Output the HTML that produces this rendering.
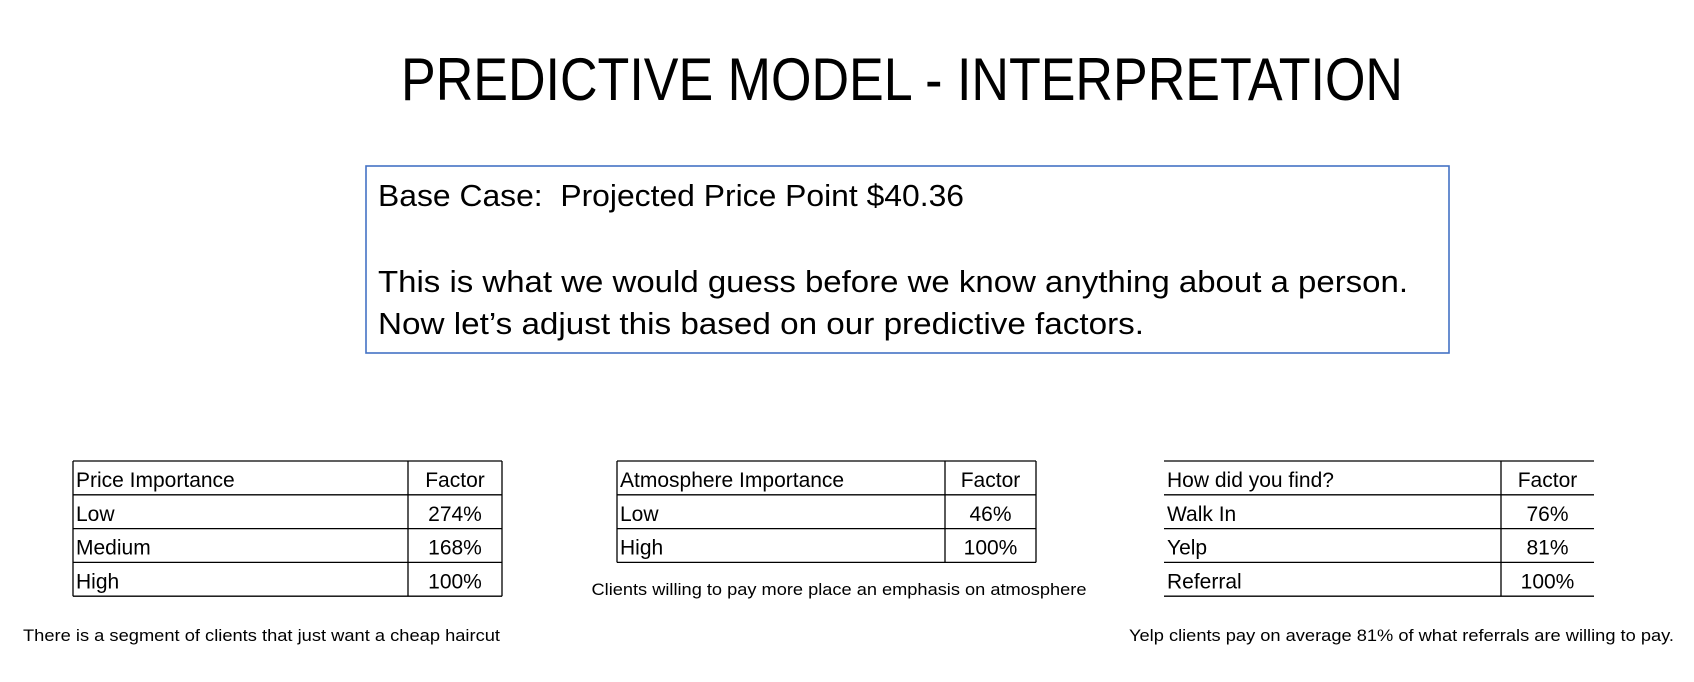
<!DOCTYPE html>
<html><head><meta charset="utf-8"><style>
html,body{margin:0;padding:0;background:#fff;}
svg{display:block;font-family:"Liberation Sans",sans-serif;}
</style></head><body>
<svg id="s" width="1694" height="682" viewBox="0 0 1694 682">
<text x="401" y="100" font-size="60" textLength="1002" lengthAdjust="spacingAndGlyphs">PREDICTIVE MODEL - INTERPRETATION</text>
<rect x="366" y="166" width="1083" height="187" fill="none" stroke="#4472C4" stroke-width="1.6"/>
<text x="378" y="206" font-size="31" textLength="586" lengthAdjust="spacingAndGlyphs">Base Case:&#160; Projected Price Point $40.36</text>
<text x="378" y="292" font-size="31" textLength="1030" lengthAdjust="spacingAndGlyphs">This is what we would guess before we know anything about a person.</text>
<text x="378" y="334" font-size="31" textLength="766" lengthAdjust="spacingAndGlyphs">Now let’s adjust this based on our predictive factors.</text>
<text x="839" y="595" font-size="17" text-anchor="middle" textLength="495" lengthAdjust="spacingAndGlyphs">Clients willing to pay more place an emphasis on atmosphere</text>
<text x="23" y="641" font-size="17" textLength="477" lengthAdjust="spacingAndGlyphs">There is a segment of clients that just want a cheap haircut</text>
<text x="1129" y="641" font-size="17" textLength="545" lengthAdjust="spacingAndGlyphs">Yelp clients pay on average 81% of what referrals are willing to pay.</text>
</svg>
<script>
const priceLabels=["Low","Medium","High"];
const priceValues=["274%","168%","100%"];
const atmoLabels=["Low","High"];
const atmoValues=["46%","100%"];
const findLabels=["Walk In","Yelp","Referral"];
const findValues=["76%","81%","100%"];
const NS="http://www.w3.org/2000/svg";
const svg=document.getElementById('s');
function mk(tag,attrs){const e=document.createElementNS(NS,tag);for(const k in attrs)e.setAttribute(k,attrs[k]);svg.appendChild(e);return e;}
function table(name,x0,x1,xd,top,header,labels,values,sides){
  const rh=33.8;const n=labels.length+1;const bottom=top+rh*n;
  for(let i=0;i<=n;i++){const l=mk('line',{x1:x0,x2:x1,y1:top+i*rh,y2:top+i*rh,stroke:'#000','stroke-width':1.3});
    
    }
  const xs=sides?[x0,xd,x1]:[xd];
  xs.forEach(x=>{const l=mk('line',{x1:x,x2:x,y1:top,y2:bottom,stroke:'#000','stroke-width':1.3});
    
    });
  const cx=(xd+x1)/2;
  const rows=[[header,'Factor']].concat(labels.map((l,i)=>[l,values[i]]));
  rows.forEach((r,i)=>{
    const y=top+i*rh+26;
    const a=mk('text',{x:x0+3,y:y,'font-size':21});a.textContent=r[0];
    
    
    const b=mk('text',{x:cx,y:y,'font-size':21,'text-anchor':'middle'});b.textContent=r[1];
    
    
  });
}
table('price-table',73,502,408,461,'Price Importance',priceLabels,priceValues,true);
table('atmosphere-table',617,1036,945,461,'Atmosphere Importance',atmoLabels,atmoValues,true);
table('find-table',1164,1594,1501,461,'How did you find?',findLabels,findValues,false);
</script>
</body></html>
